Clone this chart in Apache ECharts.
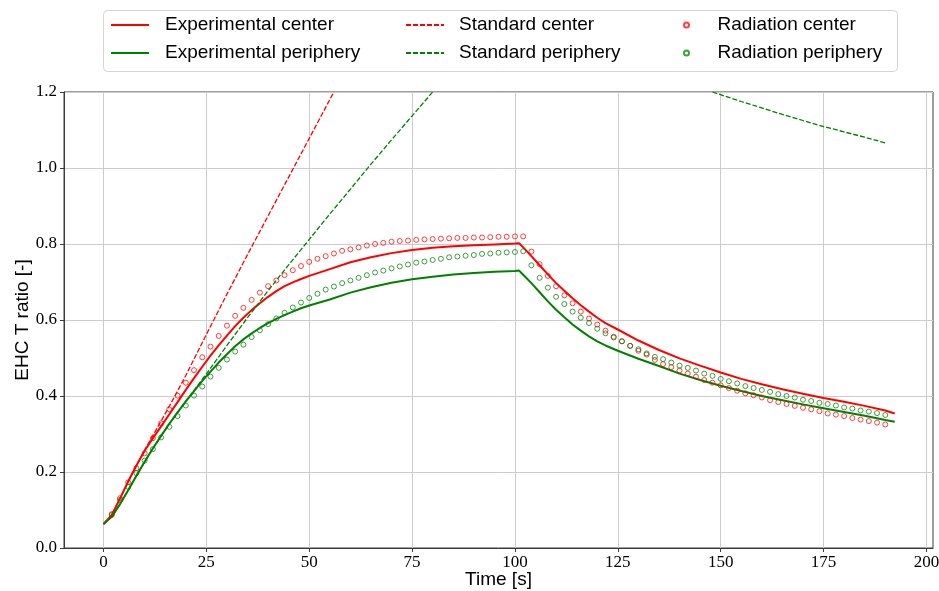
<!DOCTYPE html>
<html>
<head>
<meta charset="utf-8">
<script src="https://cdn.jsdelivr.net/npm/echarts@6/dist/echarts.min.js"></script>
<style>
  html, body { margin: 0; padding: 0; background: #fff; }
  #chart { width: 939px; height: 591px; }
</style>
</head>
<body>
<div id="chart"></div>
<script>
// experimental curves (solid)
var expTime = [0,2,4,6,8,10,12,14,16,18,20,22,24,26,28,30,32,34,36,38,40,42,44,46,48,50,55,60,65,70,75,80,85,90,95,100,101,102,104,106,108,110,112,114,116,118,120,122,125,130,135,140,145,150,155,160,165,170,175,180,185,190,192.3];
var expCenter = [0.063,0.087,0.13,0.175,0.217,0.256,0.289,0.32,0.352,0.384,0.416,0.447,0.477,0.506,0.533,0.559,0.584,0.606,0.626,0.644,0.661,0.676,0.689,0.699,0.708,0.716,0.734,0.752,0.765,0.776,0.784,0.79,0.794,0.797,0.799,0.801,0.802,0.791,0.768,0.744,0.72,0.697,0.677,0.657,0.639,0.622,0.606,0.592,0.575,0.546,0.521,0.499,0.48,0.462,0.445,0.431,0.418,0.406,0.395,0.385,0.374,0.362,0.354];
var expPeriphery = [0.063,0.082,0.115,0.152,0.19,0.227,0.262,0.295,0.327,0.357,0.386,0.413,0.44,0.464,0.488,0.51,0.531,0.549,0.565,0.579,0.592,0.603,0.613,0.622,0.631,0.638,0.654,0.672,0.686,0.698,0.707,0.714,0.72,0.724,0.727,0.729,0.73,0.719,0.697,0.673,0.649,0.627,0.607,0.588,0.572,0.557,0.544,0.533,0.519,0.498,0.479,0.459,0.442,0.427,0.413,0.4,0.389,0.378,0.368,0.358,0.348,0.337,0.332];

// standard model (dashed), only the part inside the axes is readable
var stdCenterTime = [0,2,4,6,8,10,12,14,16,18,20,25,30,35,40,45,50,55,56];
var stdCenter = [0.063,0.087,0.13,0.175,0.217,0.258,0.296,0.334,0.373,0.413,0.454,0.562,0.668,0.772,0.874,0.976,1.078,1.18,1.2];
var stdPeriphTime = [0,2,4,6,8,10,12,14,16,18,20,25,30,35,40,45,50,55,60,65,70,75,80];
var stdPeriph = [0.063,0.082,0.115,0.152,0.19,0.227,0.262,0.295,0.327,0.357,0.386,0.458,0.533,0.606,0.677,0.745,0.812,0.879,0.944,1.01,1.074,1.137,1.2];
var stdPeriphTailTime = [148,155,160,165,170,175,180,185,190];
var stdPeriphTail = [1.2,1.175,1.158,1.141,1.125,1.109,1.095,1.081,1.066];

// radiation model (markers)
var radTime = [2,4,6,8,10,12,14,16,18,20,22,24,26,28,30,32,34,36,38,40,42,44,46,48,50,52,54,56,58,60,62,64,66,68,70,72,74,76,78,80,82,84,86,88,90,92,94,96,98,100,102,104,106,108,110,112,114,116,118,120,122,124,126,128,130,132,134,136,138,140,142,144,146,148,150,152,154,156,158,160,162,164,166,168,170,172,174,176,178,180,182,184,186,188,190];
var radCenter = [0.089,0.131,0.173,0.21,0.249,0.289,0.328,0.365,0.401,0.435,0.468,0.502,0.53,0.558,0.585,0.611,0.632,0.653,0.672,0.689,0.704,0.718,0.731,0.742,0.753,0.761,0.768,0.775,0.782,0.786,0.791,0.796,0.8,0.803,0.806,0.808,0.809,0.811,0.812,0.813,0.814,0.815,0.816,0.816,0.817,0.817,0.818,0.819,0.819,0.82,0.82,0.78,0.747,0.716,0.689,0.665,0.644,0.622,0.604,0.588,0.572,0.556,0.544,0.532,0.519,0.509,0.495,0.484,0.476,0.467,0.459,0.451,0.442,0.435,0.428,0.421,0.414,0.407,0.402,0.396,0.389,0.384,0.379,0.374,0.369,0.365,0.36,0.354,0.351,0.347,0.342,0.338,0.334,0.33,0.325];
var radPeriphery = [0.087,0.126,0.161,0.197,0.23,0.26,0.291,0.319,0.347,0.375,0.401,0.425,0.451,0.474,0.496,0.517,0.535,0.555,0.573,0.589,0.604,0.619,0.633,0.646,0.658,0.669,0.68,0.688,0.697,0.704,0.711,0.718,0.725,0.73,0.736,0.741,0.746,0.751,0.754,0.758,0.761,0.765,0.767,0.769,0.771,0.774,0.775,0.777,0.778,0.779,0.781,0.744,0.711,0.685,0.661,0.642,0.622,0.606,0.592,0.577,0.565,0.554,0.544,0.532,0.523,0.512,0.503,0.497,0.488,0.48,0.474,0.467,0.459,0.453,0.445,0.439,0.433,0.426,0.421,0.416,0.411,0.405,0.4,0.396,0.39,0.387,0.382,0.379,0.375,0.37,0.367,0.362,0.359,0.355,0.35];

var xTicks = [0,25,50,75,100,125,150,175,200];

function pairs(xs, ys) {
	return xs.map(function (x, i) { return [x, ys[i]]; });
}

var RED = '#ff0000', GREEN = '#008000';
var sansFont = 'Liberation Sans';
var serifFont = 'Liberation Serif';

function legendText(pad) {
	return {
		fontFamily: sansFont,
		fontSize: 19,
		color: '#000',
		lineHeight: 20,
		padding: [0, 0, 0, pad]
	};
}

var chart = echarts.init(document.getElementById('chart'), null, {renderer: 'canvas'});

var option = {
	animation: false,
	backgroundColor: '#fff',
	graphic: [{
		type: 'rect',
		left: 103,
		top: 10,
		z: 0,
		shape: {width: 794, height: 61, r: 4},
		style: {fill: '#fff', stroke: '#d4d4d4', lineWidth: 1}
	}],
	legend: [
		{
			data: ['Experimental center', 'Experimental periphery'],
			orient: 'vertical', left: 110, top: 15, padding: 0,
			itemWidth: 38, itemHeight: 4, itemGap: 8,
			itemStyle: {opacity: 0},
			selectedMode: false,
			textStyle: legendText(11)
		},
		{
			data: ['Standard center', 'Standard periphery'],
			orient: 'vertical', left: 405, top: 15, padding: 0,
			itemWidth: 38, itemHeight: 4, itemGap: 8,
			itemStyle: {opacity: 0},
			selectedMode: false,
			textStyle: legendText(10)
		},
		{
			data: ['Radiation center', 'Radiation periphery'],
			orient: 'vertical', left: 683, top: 15, padding: 0,
			itemWidth: 38, itemHeight: 5, itemGap: 8,
			selectedMode: false,
			textStyle: legendText(7)
		}
	],
	grid: {
		left: 64, right: 6, top: 92, bottom: 43,
		outerBoundsMode: 'none',
		show: true,
		borderColor: '#3c3c3c',
		borderWidth: 1
	},
	xAxis: {
		type: 'value',
		min: -9.6,
		max: 201.6,
		name: 'Time [s]',
		nameLocation: 'middle',
		nameGap: 22,
		nameMoveOverlap: false,
		nameTextStyle: {fontFamily: sansFont, fontSize: 19, color: '#000'},
		axisLine: {show: true, onZero: false, lineStyle: {color: '#3c3c3c', width: 1}},
		axisTick: {show: true, length: 4, inside: false, customValues: xTicks, lineStyle: {color: '#3c3c3c'}},
		axisLabel: {
			customValues: xTicks,
			margin: 6,
			fontFamily: serifFont,
			fontSize: 17,
			color: '#000'
		},
		splitLine: {show: true, lineStyle: {color: '#cccccc', width: 1}}
	},
	yAxis: {
		type: 'value',
		min: 0,
		max: 1.2,
		interval: 0.2,
		name: 'EHC T ratio [-]',
		nameLocation: 'middle',
		nameGap: 32,
		nameMoveOverlap: false,
		nameTextStyle: {fontFamily: sansFont, fontSize: 19, color: '#000'},
		axisLine: {show: true, onZero: false, lineStyle: {color: '#3c3c3c', width: 1}},
		axisTick: {show: true, length: 4, lineStyle: {color: '#3c3c3c'}},
		axisLabel: {
			margin: 7,
			fontFamily: serifFont,
			fontSize: 17,
			color: '#000',
			formatter: function (v) { return v.toFixed(1); }
		},
		splitLine: {show: true, lineStyle: {color: '#cccccc', width: 1}}
	},
	series: [
		{
			name: 'Experimental center',
			type: 'line',
			symbol: 'none',
			color: RED,
			lineStyle: {color: RED, width: 2},
			data: pairs(expTime, expCenter),
			z: 3
		},
		{
			name: 'Experimental periphery',
			type: 'line',
			symbol: 'none',
			color: GREEN,
			lineStyle: {color: GREEN, width: 2},
			data: pairs(expTime, expPeriphery),
			z: 3
		},
		{
			name: 'Standard center',
			type: 'line',
			symbol: 'none',
			color: RED,
			lineStyle: {color: RED, width: 1.3, type: [5, 2]},
			data: pairs(stdCenterTime, stdCenter),
			z: 3
		},
		{
			name: 'Standard periphery',
			type: 'line',
			symbol: 'none',
			color: GREEN,
			connectNulls: false,
			lineStyle: {color: GREEN, width: 1.3, type: [5, 2]},
			data: pairs(stdPeriphTime, stdPeriph).concat([[114, '-']], pairs(stdPeriphTailTime, stdPeriphTail)),
			z: 3
		},
		{
			name: 'Radiation center',
			type: 'scatter',
			symbol: 'circle',
			symbolSize: 5,
			color: RED,
			itemStyle: {color: 'rgba(255,255,255,0)', borderColor: RED, borderWidth: 1, opacity: 0.75},
			data: pairs(radTime, radCenter),
			z: 4
		},
		{
			name: 'Radiation periphery',
			type: 'scatter',
			symbol: 'circle',
			symbolSize: 5,
			color: GREEN,
			itemStyle: {color: 'rgba(255,255,255,0)', borderColor: GREEN, borderWidth: 1, opacity: 0.75},
			data: pairs(radTime, radPeriphery),
			z: 4
		}
	]
};

chart.setOption(option);
</script>
</body>
</html>
